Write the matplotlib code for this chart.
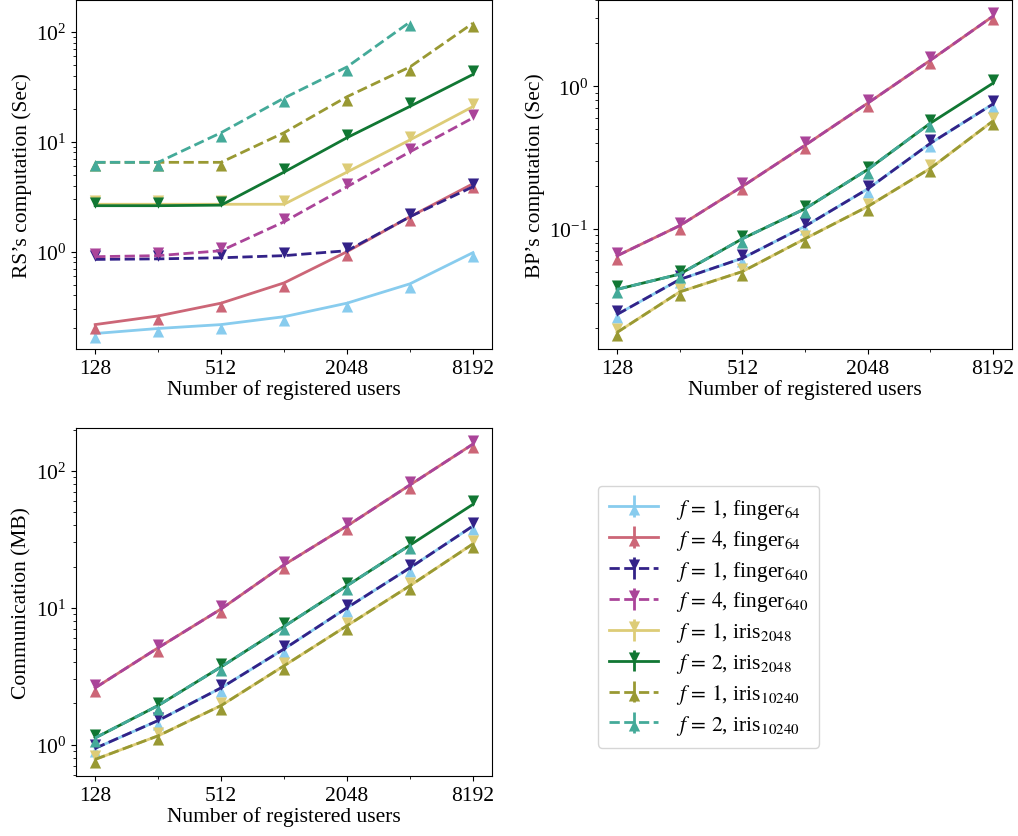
import numpy as np
import matplotlib
matplotlib.use("Agg")
import matplotlib.pyplot as plt

plt.rcParams['font.family'] = ['Liberation Serif', 'DejaVu Serif']
plt.rcParams['mathtext.fontset'] = 'stix'
plt.rcParams['font.size'] = 15.5

# data
users = [128, 256, 512, 1024, 2048, 4096, 8192]

labels = [r'$f\,=\,1$, finger$_{64}$', r'$f\,=\,4$, finger$_{64}$',
          r'$f\,=\,1$, finger$_{640}$', r'$f\,=\,4$, finger$_{640}$',
          r'$f\,=\,1$, iris$_{2048}$', r'$f\,=\,2$, iris$_{2048}$',
          r'$f\,=\,1$, iris$_{10240}$', r'$f\,=\,2$, iris$_{10240}$']
colors = ['#88CCEE', '#CC6677', '#332288', '#AA4499',
          '#DDCC77', '#117733', '#999933', '#44AA99']
styles = ['-', '-', '--', '--', '-', '-', '--', '--']
up = [True, True, False, False, False, False, True, True]

# RS computation (Sec)
rs_f1_finger64 = [0.18, 0.20, 0.217, 0.256, 0.34, 0.51, 0.98]
rs_f4_finger64 = [0.217, 0.26, 0.34, 0.52, 1.0, 2.08, 4.15]
rs_f1_finger640 = [0.85, 0.86, 0.88, 0.92, 1.02, 2.08, 3.9]
rs_f4_finger640 = [0.9, 0.92, 1.02, 1.87, 3.9, 8.1, 16.5]
rs_f1_iris2048 = [2.7, 2.7, 2.7, 2.7, 5.3, 10.4, 20.9]
rs_f2_iris2048 = [2.62, 2.62, 2.65, 5.3, 10.9, 21, 41]
rs_f1_iris10240 = [6.5, 6.5, 6.5, 12.1, 25.7, 48, 120]
rs_f2_iris10240 = [6.5, 6.5, 12.1, 25, 48, 123]

# BP computation (Sec)
bp_f1_finger64 = [0.025, 0.044, 0.062, 0.104, 0.19, 0.397, 0.75]
bp_f4_finger64 = [0.0645, 0.105, 0.198, 0.385, 0.76, 1.52, 3.1]
bp_f1_finger640 = [0.025, 0.044, 0.062, 0.104, 0.19, 0.397, 0.75]
bp_f4_finger640 = [0.0645, 0.105, 0.198, 0.385, 0.76, 1.52, 3.1]
bp_f1_iris2048 = [0.0187, 0.036, 0.05, 0.085, 0.143, 0.265, 0.57]
bp_f2_iris2048 = [0.0375, 0.048, 0.085, 0.138, 0.26, 0.55, 1.05]
bp_f1_iris10240 = [0.0187, 0.036, 0.05, 0.085, 0.143, 0.265, 0.57]
bp_f2_iris10240 = [0.0375, 0.048, 0.085, 0.138, 0.26, 0.55]

# Communication (MB)
cm_f1_finger64 = [0.94, 1.5, 2.6, 5.0, 10.0, 19.6, 39.6]
cm_f4_finger64 = [2.6, 5.1, 9.8, 20.6, 39.6, 79, 157]
cm_f1_finger640 = [0.94, 1.5, 2.6, 5.0, 10.0, 19.6, 39.6]
cm_f4_finger640 = [2.6, 5.1, 9.8, 20.6, 39.6, 79, 157]
cm_f1_iris2048 = [0.78, 1.16, 1.93, 3.77, 7.4, 14.5, 29.3]
cm_f2_iris2048 = [1.12, 1.93, 3.7, 7.3, 14.5, 28.7, 57]
cm_f1_iris10240 = [0.78, 1.16, 1.93, 3.77, 7.4, 14.5, 29.3]
cm_f2_iris10240 = [1.12, 1.93, 3.7, 7.3, 14.5, 28.7]

rs = [rs_f1_finger64, rs_f4_finger64, rs_f1_finger640, rs_f4_finger640,
      rs_f1_iris2048, rs_f2_iris2048, rs_f1_iris10240, rs_f2_iris10240]
bp = [bp_f1_finger64, bp_f4_finger64, bp_f1_finger640, bp_f4_finger640,
      bp_f1_iris2048, bp_f2_iris2048, bp_f1_iris10240, bp_f2_iris10240]
cm = [cm_f1_finger64, cm_f4_finger64, cm_f1_finger640, cm_f4_finger640,
      cm_f1_iris2048, cm_f2_iris2048, cm_f1_iris10240, cm_f2_iris10240]

# triangles with their tip close to the data point
tri_up = [(0, 0.4), (-1, -1.6), (1, -1.6), (0, 0.4)]
tri_down = [(0, -0.4), (-1, 1.6), (1, 1.6), (0, -0.4)]

fig = plt.figure(figsize=(10.18, 8.37), dpi=100)
ax1 = fig.add_axes([0.0747, 0.5818, 0.4087, 0.417])
ax2 = fig.add_axes([0.5874, 0.5818, 0.4067, 0.417])
ax3 = fig.add_axes([0.0747, 0.0717, 0.4087, 0.4158])

def draw(ax, series, ylabel, ylim):
    for i, vals in enumerate(series):
        x = users[:len(vals)]
        ax.errorbar(x, vals, yerr=np.zeros(len(vals)), color=colors[i],
                    linestyle=styles[i], linewidth=2,
                    marker=tri_up if up[i] else tri_down, markersize=13,
                    markeredgewidth=0, label=labels[i])
    ax.set_xscale('log', base=2)
    ax.set_yscale('log')
    ax.set_xlim(128 * 2 ** -0.304, 8192 * 2 ** 0.304)
    ax.set_ylim(*ylim)
    ax.set_xticks([128, 512, 2048, 8192])
    ax.set_xticklabels(['128', '512', '2048', '8192'])
    ax.set_xticks([256, 1024, 4096], minor=True)
    ax.set_xticklabels([], minor=True)
    ax.set_xlabel('Number of registered users', labelpad=1)
    ax.set_ylabel(ylabel, labelpad=3)

draw(ax1, rs, 'RS\u2019s computation (Sec)', (0.13, 195))
draw(ax2, bp, 'BP\u2019s computation (Sec)', (0.0143, 4.03))
draw(ax3, cm, 'Communication (MB)', (0.59, 206))

handles, labs = ax1.get_legend_handles_labels()
fig.legend(handles, labs, loc='upper left', borderaxespad=0,
           bbox_to_anchor=(598 / 1018, 1 - 487 / 837), handlelength=2.3,
           labelspacing=0.32, borderpad=0.5)

fig.savefig('out.png', dpi=100)
